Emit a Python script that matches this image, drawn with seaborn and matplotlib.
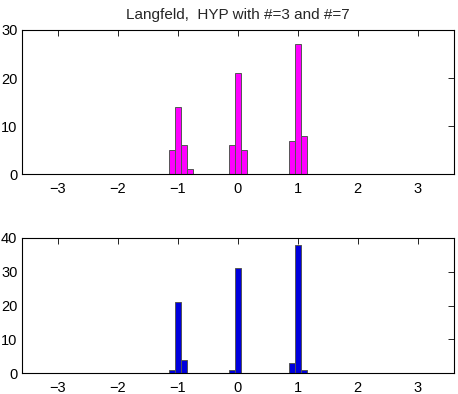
import pandas as pd
import seaborn as sns
import matplotlib.pyplot as plt

# bin centres and counts
top_centres = [-1.1, -1.0, -0.9, -0.8, -0.1, 0.0, 0.1, 0.9, 1.0, 1.1]
top_counts = [5, 14, 6, 1, 6, 21, 5, 7, 27, 8]

bottom_centres = [-1.1, -1.0, -0.9, -0.1, 0.0, 0.9, 1.0, 1.1]
bottom_counts = [1, 21, 4, 1, 31, 3, 38, 1]

x_ticks = [-3, -2, -1, 0, 1, 2, 3]
title = 'Langfeld,  HYP with #=3 and #=7'

df_top = pd.DataFrame({'x': top_centres, 'n': top_counts})
df_bot = pd.DataFrame({'x': bottom_centres, 'n': bottom_counts})

sns.set_style('white')
plt.rcParams['font.family'] = ['Liberation Sans', 'DejaVu Sans']
plt.rcParams['font.size'] = 10.5

fig = plt.figure(figsize=(4.58, 3.94), dpi=100)
ax1 = fig.add_axes([0.047, 0.558, 0.944, 0.366])
ax2 = fig.add_axes([0.047, 0.053, 0.944, 0.343])

sns.histplot(data=df_top, x='x', weights='n', binwidth=0.1, binrange=(-1.15, 1.15),
             ax=ax1, color='#ff00ff', edgecolor='#555555', linewidth=0.7, alpha=1)
sns.histplot(data=df_bot, x='x', weights='n', binwidth=0.1, binrange=(-1.15, 1.15),
             ax=ax2, color='#0000dd', edgecolor='#555555', linewidth=0.7, alpha=1)

for ax, ymax, yt in [(ax1, 30, [0, 10, 20, 30]), (ax2, 40, [0, 10, 20, 30, 40])]:
    ax.set_xlim(-3.6, 3.6)
    ax.set_ylim(0, ymax)
    ax.set_xticks(x_ticks)
    ax.set_yticks(yt)
    ax.set_xlabel('')
    ax.set_ylabel('')
    ax.tick_params(direction='in', length=4, width=0.6, top=True, right=True,
                   labelsize=10.5, colors='black')
    ax.tick_params(axis='y', pad=3)
    ax.tick_params(axis='x', pad=6)
    for s in ax.spines.values():
        s.set_visible(True)
        s.set_color('black')
        s.set_linewidth(0.8)

ax1.set_title(title, fontsize=11, pad=8)

fig.savefig('out.png', dpi=100)
